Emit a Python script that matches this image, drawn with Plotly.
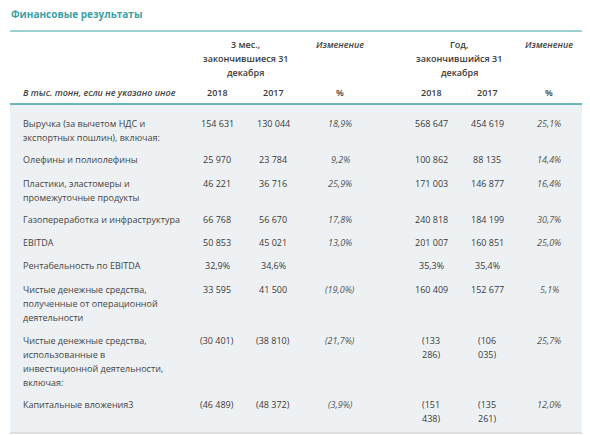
import plotly.graph_objects as go

title = "Финансовые результаты"
unit_label = "В тыс. тонн, если не указано иное"
group_q = "3 мес.,<br>закончившиеся 31<br>декабря"
group_y = "Год,<br>закончившийся 31<br>декабря"
change_label = "Изменение"
col_years = ["2018", "2017", "%", "2018", "2017", "%"]

row_labels = [
    "Выручка (за вычетом НДС и<br>экспортных пошлин), включая:",
    "Олефины и полиолефины",
    "Пластики, эластомеры и<br>промежуточные продукты",
    "Газопереработка и инфраструктура",
    "EBITDA",
    "Рентабельность по EBITDA",
    "Чистые денежные средства,<br>полученные от операционной<br>деятельности",
    "Чистые денежные средства,<br>использованные в<br>инвестиционной деятельности,<br>включая:",
    "Капитальные вложения3",
]
q4_2018 = ["154 631", "25 970", "46 221", "66 768", "50 853", "32,9%", "33 595", "(30 401)", "(46 489)"]
q4_2017 = ["130 044", "23 784", "36 716", "56 670", "45 021", "34,6%", "41 500", "(38 810)", "(48 372)"]
q4_change = ["18,9%", "9,2%", "25,9%", "17,8%", "13,0%", "", "(19,0%)", "(21,7%)", "(3,9%)"]
fy_2018 = ["568 647", "100 862", "171 003", "240 818", "201 007", "35,3%", "160 409", "(133<br>286)", "(151<br>438)"]
fy_2017 = ["454 619", "88 135", "146 877", "184 199", "160 851", "35,4%", "152 677", "(106<br>035)", "(135<br>261)"]
fy_change = ["25,1%", "14,4%", "16,4%", "30,7%", "25,0%", "", "5,1%", "25,7%", "12,0%"]

# layout (pixel coordinates of the 590x435 window; page body has 8px margin)
W, H, OFF = 590, 435, 8
row_y = [123, 159, 183, 219, 242, 265, 289, 340, 404]
col_x = [217, 273, 340, 431, 487, 549]
label_x = 22
LINE = 14
teal = "#3c9fa3"
text_c = "#3a3a3a"
FONT = "Open Sans"
fs = 9

fig = go.Figure()
fig.add_trace(go.Scatter(x=[OFF, W], y=[OFF, H], mode="markers",
                         marker=dict(opacity=0), hoverinfo="skip", showlegend=False))

ann = []
def add(x, y, text, xa="center", italic=False, weight=400, color=text_c, size=fs):
    for k, line in enumerate(text.split("<br>")):
        t = "<i>" + line + "</i>" if italic else line
        ann.append(dict(x=x, y=y + k * LINE, xref="x", yref="y", text=t, showarrow=False,
                        xanchor=xa, yanchor="middle",
                        font=dict(family=FONT, size=size, color=color, weight=weight),
                        borderpad=0))

add(10, 14, title, xa="left", color=teal, size=10, weight=700)
add((col_x[0] + col_x[1]) / 2, 44, group_q, weight=600)
add((col_x[3] + col_x[4]) / 2, 44, group_y, weight=600)
add(col_x[2], 44, change_label, italic=True, weight=600, color="#444")
add(col_x[5], 44, change_label, italic=True, weight=600, color="#444")
add(label_x, 92, unit_label, xa="left", italic=True, weight=600, color="#444")
for cx, yl in zip(col_x, col_years):
    add(cx, 92, yl, weight=600)

cols = [q4_2018, q4_2017, q4_change, fy_2018, fy_2017, fy_change]
italic_cols = [False, False, True, False, False, True]
for i, lbl in enumerate(row_labels):
    add(label_x, row_y[i], lbl, xa="left", color="#444")
    for j, c in enumerate(cols):
        v = c[i]
        if v:
            add(col_x[j], row_y[i], v, italic=italic_cols[j],
                color="#555" if italic_cols[j] else text_c)

shapes = [
    dict(type="rect", xref="x", yref="y", x0=10, x1=587, y0=104, y1=433,
         fillcolor="#eef1f3", line=dict(width=0), layer="below"),
    dict(type="line", xref="x", yref="y", x0=10, x1=587, y0=31, y1=31, line=dict(color=teal, width=1)),
    dict(type="line", xref="x", yref="y", x0=10, x1=587, y0=104, y1=104, line=dict(color=teal, width=1.5)),
    dict(type="line", xref="x", yref="y", x0=10, x1=587, y0=433, y1=433, line=dict(color="#d5d9dc", width=1.5)),
]

fig.update_layout(
    width=W - OFF, height=H - OFF, margin=dict(l=0, r=0, t=0, b=0),
    paper_bgcolor="white", plot_bgcolor="white",
    xaxis=dict(range=[OFF, W], visible=False, fixedrange=True),
    yaxis=dict(range=[H, OFF], visible=False, fixedrange=True),
    annotations=ann, shapes=shapes, showlegend=False,
)
fig.write_html("out.html")
